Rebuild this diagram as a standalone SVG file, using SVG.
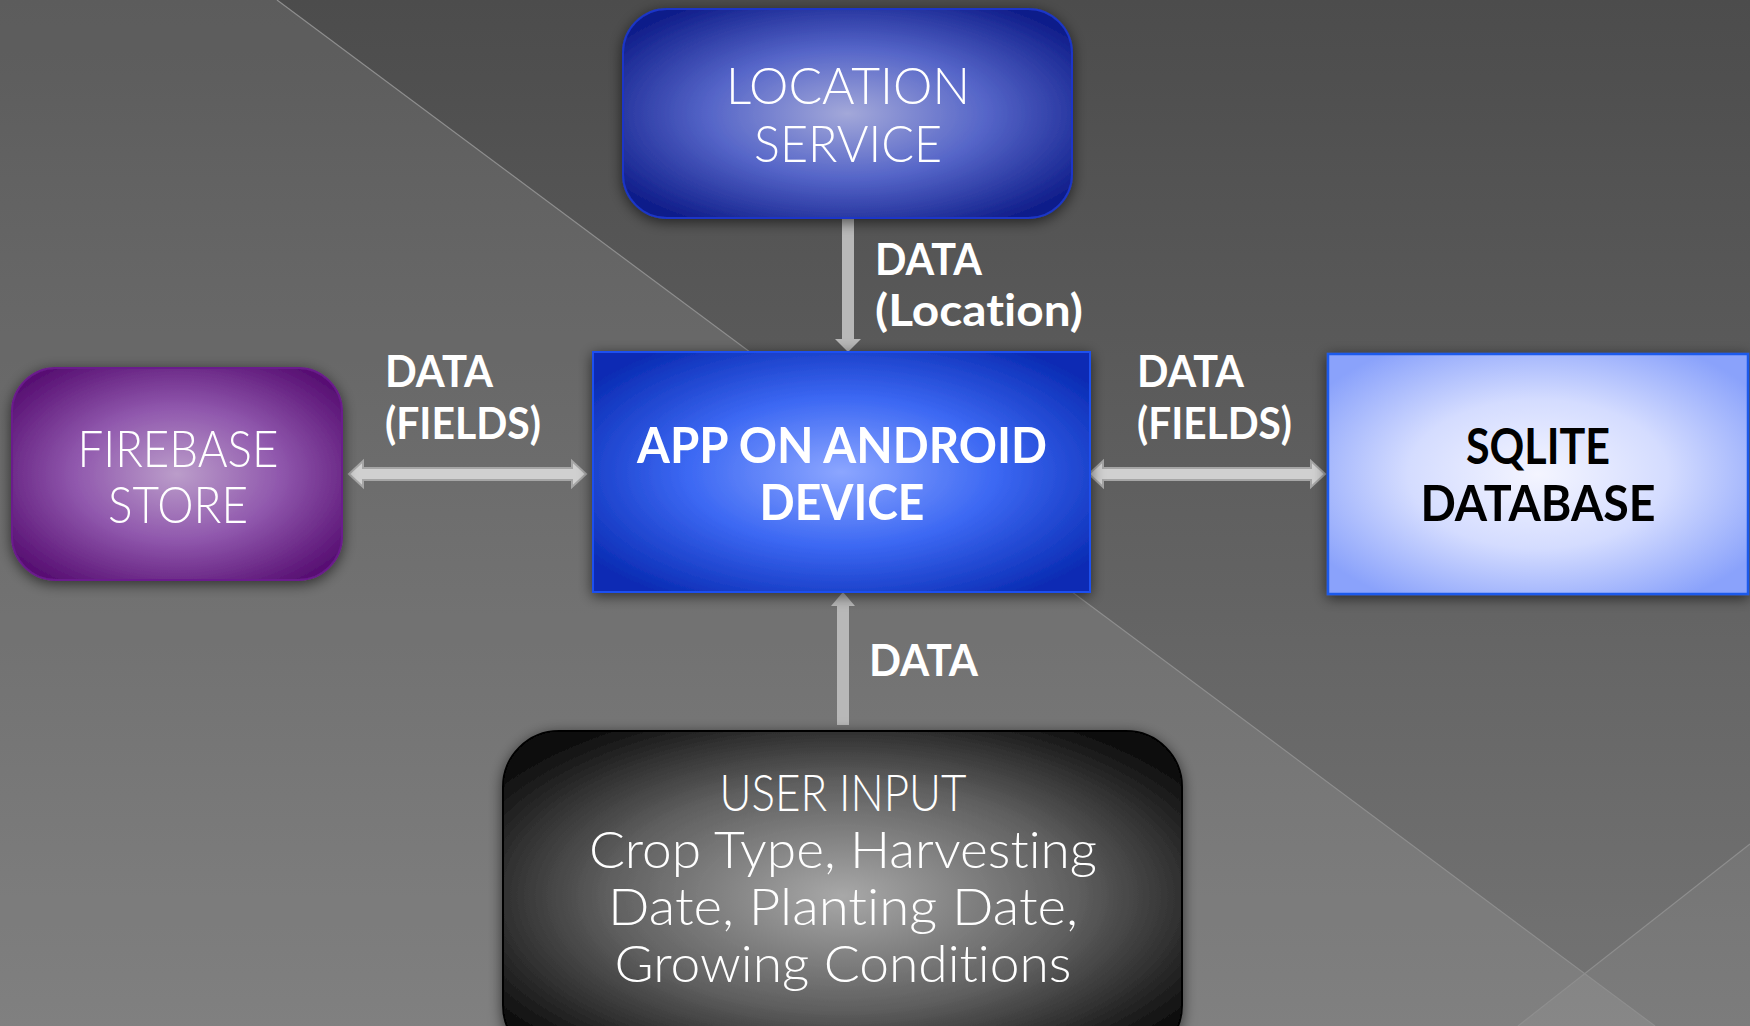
<svg xmlns="http://www.w3.org/2000/svg" width="1750" height="1026" viewBox="0 0 1750 1026">
<defs>
<style>
text{font-variant-ligatures:none;}
.t{font-family:Lato,"Noto Sans","Liberation Sans",sans-serif;text-anchor:middle;font-weight:300;}
.w{fill:#ffffff;}
.b{font-weight:bold;}
.lbl{font-family:Lato,"Noto Sans","Liberation Sans",sans-serif;font-weight:bold;fill:#ffffff;font-size:43px;}
.conn{fill:#b8b8b8;}
.dbl{fill:#d0d0d0;stroke:#a6a6a6;stroke-width:2;}
</style>
<linearGradient id="bg" x1="0" y1="0" x2="0" y2="1">
<stop offset="0" stop-color="#4c4c4c"/>
<stop offset="1" stop-color="#747474"/>
</linearGradient>
<radialGradient id="gLoc" cx="0.5" cy="0.5" r="0.62">
<stop offset="0" stop-color="#a3a8d9"/>
<stop offset="0.5" stop-color="#5565c8"/>
<stop offset="1" stop-color="#0f1d8a"/>
</radialGradient>
<radialGradient id="gApp" cx="0.5" cy="0.5" r="0.62">
<stop offset="0" stop-color="#8ca6ff"/>
<stop offset="0.5" stop-color="#3c68f3"/>
<stop offset="1" stop-color="#0a2cb4"/>
</radialGradient>
<radialGradient id="gFire" cx="0.5" cy="0.5" r="0.62">
<stop offset="0" stop-color="#bb9dca"/>
<stop offset="0.5" stop-color="#9058ad"/>
<stop offset="1" stop-color="#581073"/>
</radialGradient>
<radialGradient id="gSql" cx="0.5" cy="0.5" r="0.62">
<stop offset="0" stop-color="#f4f5ff"/>
<stop offset="0.5" stop-color="#d4dcff"/>
<stop offset="1" stop-color="#8aa2fb"/>
</radialGradient>
<radialGradient id="gUser" cx="0.5" cy="0.5" r="0.62">
<stop offset="0" stop-color="#a8a8a8"/>
<stop offset="0.55" stop-color="#606060"/>
<stop offset="1" stop-color="#0c0c0c"/>
</radialGradient>
<filter id="sh" x="-20%" y="-20%" width="140%" height="140%">
<feDropShadow dx="0" dy="3" stdDeviation="7" flood-color="#000" flood-opacity="0.6"/>
</filter>
</defs>

<g id="background">
<rect x="0" y="0" width="1750" height="1026" fill="url(#bg)"/>
<polygon points="0,0 277,0 1655,1026 0,1026" fill="#ffffff" fill-opacity="0.09"/>
<polygon points="1750,844 1750,1026 1518,1026" fill="#ffffff" fill-opacity="0.06"/>
<line x1="277" y1="0" x2="1655" y2="1026" stroke="#8e8e8e" stroke-width="1.2"/>
<line x1="1750" y1="844" x2="1518" y2="1026" stroke="#8e8e8e" stroke-width="1.2"/>
</g>

<g id="connectors">
<rect class="conn" x="842" y="218" width="12" height="123"/>
<polygon class="conn" points="835,339 861,339 848,352"/>
<rect class="conn" x="837" y="604" width="12" height="121"/>
<polygon class="conn" points="831,606 855,606 843,592"/>
<path class="dbl" d="M349,474 L363,461 L363,468 L572,468 L572,461 L586,474 L572,487 L572,480 L363,480 L363,487 Z"/>
<path class="dbl" d="M1089,474 L1103,461 L1103,468 L1311,468 L1311,461 L1325,474 L1311,487 L1311,480 L1103,480 L1103,487 Z"/>
<text class="lbl" x="875" y="275" textLength="107" lengthAdjust="spacingAndGlyphs">DATA</text>
<text class="lbl" x="875" y="326" textLength="208" lengthAdjust="spacingAndGlyphs">(Location)</text>
<text class="lbl" x="385" y="387" textLength="108" lengthAdjust="spacingAndGlyphs">DATA</text>
<text class="lbl" x="385" y="439" textLength="156" lengthAdjust="spacingAndGlyphs">(FIELDS)</text>
<text class="lbl" x="1137" y="387" textLength="107" lengthAdjust="spacingAndGlyphs">DATA</text>
<text class="lbl" x="1137" y="439" textLength="155" lengthAdjust="spacingAndGlyphs">(FIELDS)</text>
<text class="lbl" x="869" y="676" textLength="109" lengthAdjust="spacingAndGlyphs">DATA</text>
</g>

<g id="location-service">
<rect x="623" y="9" width="449" height="209" rx="44" fill="url(#gLoc)" stroke="#1a36c8" stroke-width="2" filter="url(#sh)"/>
<text class="t w" x="848" y="104" font-size="51" textLength="244" lengthAdjust="spacingAndGlyphs">LOCATION</text>
<text class="t w" x="848" y="162" font-size="51" textLength="188" lengthAdjust="spacingAndGlyphs">SERVICE</text>
</g>

<g id="firebase-store">
<rect x="12" y="368" width="330" height="212" rx="44" fill="url(#gFire)" stroke="#6a1a8c" stroke-width="2" filter="url(#sh)"/>
<text class="t w" x="178" y="467" font-size="51" textLength="201" lengthAdjust="spacingAndGlyphs">FIREBASE</text>
<text class="t w" x="178" y="523" font-size="51" textLength="140" lengthAdjust="spacingAndGlyphs">STORE</text>
</g>

<g id="app-android">
<rect x="593" y="352" width="497" height="240" fill="url(#gApp)" stroke="#1a50f0" stroke-width="2" filter="url(#sh)"/>
<text class="t w b" x="842" y="463" font-size="50" textLength="410" lengthAdjust="spacingAndGlyphs">APP ON ANDROID</text>
<text class="t w b" x="842" y="520" font-size="50" textLength="165" lengthAdjust="spacingAndGlyphs">DEVICE</text>
</g>

<g id="sqlite-database">
<rect x="1328" y="354" width="420" height="240" fill="url(#gSql)" stroke="#1a5aeb" stroke-width="2.5" filter="url(#sh)"/>
<text class="t b" x="1538" y="464" font-size="50" fill="#000000" textLength="144" lengthAdjust="spacingAndGlyphs">SQLITE</text>
<text class="t b" x="1538" y="521" font-size="50" fill="#000000" textLength="235" lengthAdjust="spacingAndGlyphs">DATABASE</text>
</g>

<g id="user-input">
<rect x="503" y="731" width="679" height="330" rx="56" fill="url(#gUser)" stroke="#050505" stroke-width="2" filter="url(#sh)"/>
<text class="t w" x="843" y="811" font-size="51" textLength="247" lengthAdjust="spacingAndGlyphs">USER INPUT</text>
<text class="t w" x="843" y="868" font-size="51" textLength="508" lengthAdjust="spacingAndGlyphs">Crop Type, Harvesting</text>
<text class="t w" x="843" y="925" font-size="51" textLength="470" lengthAdjust="spacingAndGlyphs">Date, Planting Date,</text>
<text class="t w" x="843" y="982" font-size="51" textLength="457" lengthAdjust="spacingAndGlyphs">Growing Conditions</text>
</g>
</svg>
